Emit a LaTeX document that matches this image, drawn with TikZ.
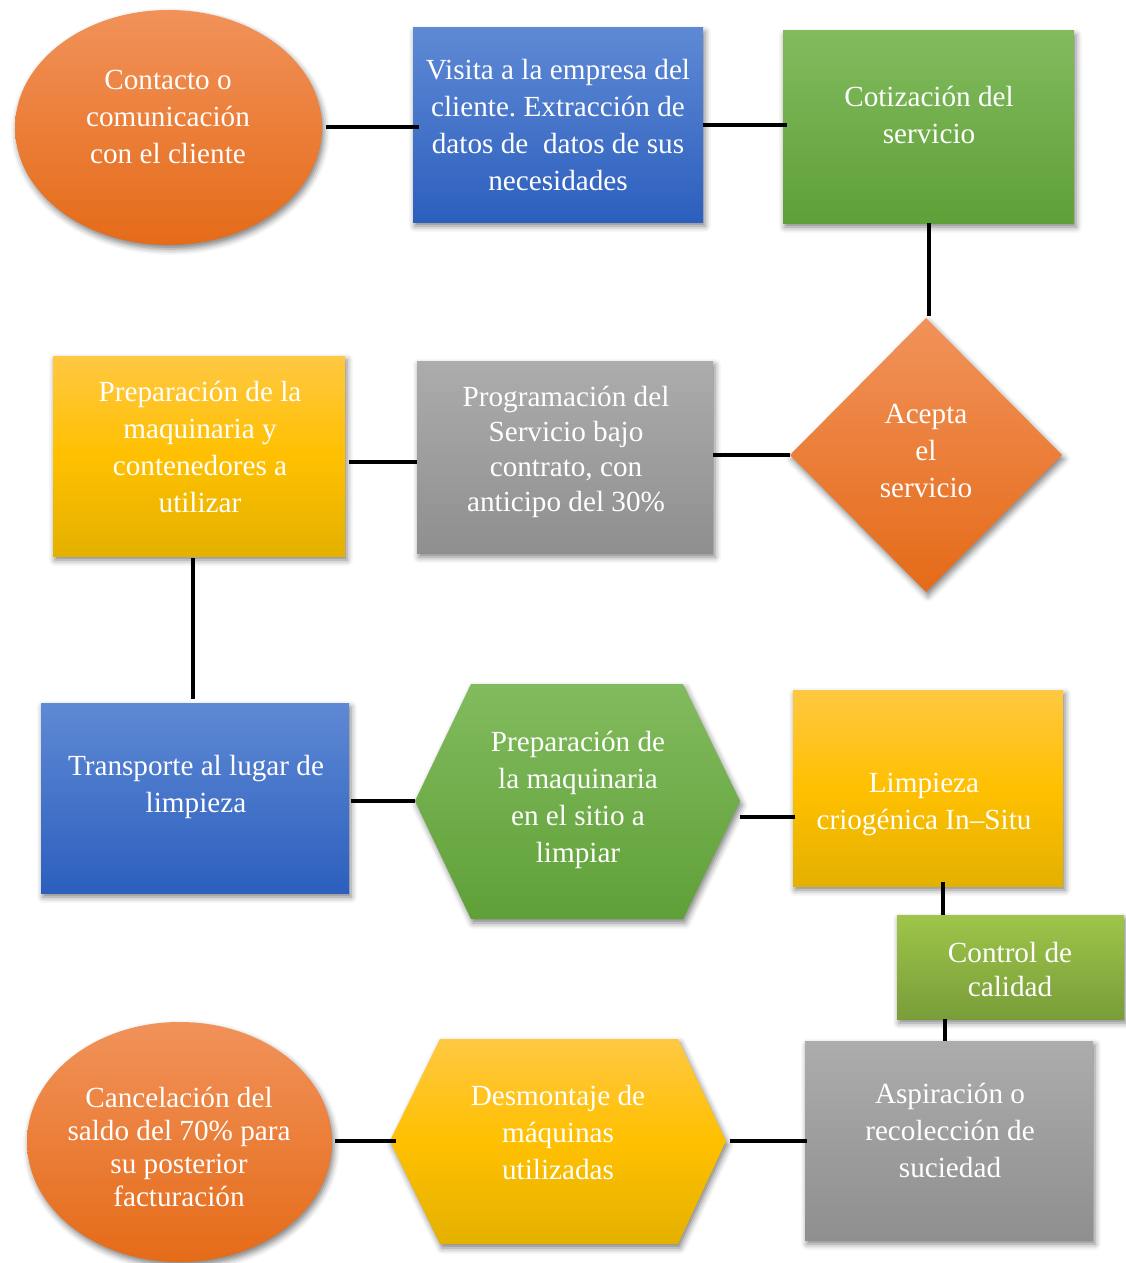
\documentclass[tikz,border=0pt]{standalone}
\usepackage{fontspec}
\setmainfont{Liberation Serif}
\frenchspacing
\usetikzlibrary{shapes.geometric,shadows.blur,calc}

% fill colours (light top, darker bottom)
\definecolor{orT}{RGB}{241,146,90}
\definecolor{orB}{RGB}{229,107,24}
\definecolor{blT}{RGB}{94,137,212}
\definecolor{blB}{RGB}{44,95,190}
\definecolor{grT}{RGB}{130,187,94}
\definecolor{grB}{RGB}{95,160,56}
\definecolor{gyT}{RGB}{172,172,172}
\definecolor{gyB}{RGB}{143,143,143}
\definecolor{ywT}{RGB}{255,200,66}
\definecolor{ywB}{RGB}{228,177,0}
\definecolor{lmT}{RGB}{158,197,74}
\definecolor{lmB}{RGB}{121,157,57}

\tikzset{
  softshadow/.style={blur shadow={shadow xshift=1pt, shadow yshift=-2pt,
      shadow blur radius=3pt, shadow opacity=50}},
  shape base/.style={draw=none, inner sep=0pt, outer sep=0pt, softshadow},
  orangefill/.style={top color=orT, bottom color=orB},
  bluefill/.style={top color=blT, bottom color=blB},
  greenfill/.style={top color=grT, bottom color=grB},
  grayfill/.style={top color=gyT, bottom color=gyB},
  yellowfill/.style={top color=ywT, bottom color=ywB, middle color={rgb,255:red,255;green,192;blue,0}},
  limefill/.style={top color=lmT, bottom color=lmB},
  box/.style={shape base, rectangle},
  oval/.style={shape base, ellipse},
  txt/.style={text=white, align=center, inner sep=0pt,
      font=\fontsize{14.6}{18.5}\selectfont},
  link/.style={line width=2pt, black},
}

\begin{document}
\begin{tikzpicture}[x=0.5pt, y=-0.5pt]
\useasboundingbox (0,0) rectangle (1125,1263);

% ---------- row 1 ----------
\node[oval, orangefill, minimum width=153.5pt, minimum height=117.5pt] (contacto) at (168.5,127.5) {};
\node[txt] (tcontacto) at (168,117) {Contacto o\\comunicación\\con el cliente};

\node[box, bluefill, minimum width=145pt, minimum height=97pt] (visita) at (558,125) {};
\node[txt] (tvisita) at (558,125) {Visita a la empresa del\\cliente. Extracción de\\datos de \ datos de sus\\necesidades};

\node[box, greenfill, minimum width=145.5pt, minimum height=96pt] (cotiz) at (928.5,127) {};
\node[txt] (tcotiz) at (929,115) {Cotización del\\servicio};

% ---------- row 2 ----------
\node[shape base, diamond, orangefill, minimum width=136pt, minimum height=137pt] (acepta) at (926,455) {};
\node[txt] (tacepta) at (926,451) {Acepta\\el\\servicio};

\node[box, grayfill, minimum width=148pt, minimum height=96pt] (program) at (565,457) {};
\node[txt, font=\fontsize{14.6}{17.5}\selectfont] (tprogram) at (566,452) {Programación del\\Servicio bajo\\contrato, con\\anticipo del 30\%};

\node[box, yellowfill, minimum width=146pt, minimum height=100pt] (prepmaq) at (199,456) {};
\node[txt] (tprepmaq) at (200,447) {Preparación de la\\maquinaria y\\contenedores a\\utilizar};

% ---------- row 3 ----------
\node[box, bluefill, minimum width=154pt, minimum height=95pt] (transp) at (195,798) {};
\node[txt] (ttransp) at (196,787) {Transporte al lugar de\\limpieza};

\path[shape base, greenfill]
  (415,801) coordinate (sitio-w) -- (471,684) -- (683,684)
  -- (740,801) coordinate (sitio-e) -- (683,919) -- (471,919) -- cycle;
\node[txt] (tsitio) at (578,800) {Preparación de\\la maquinaria\\en el sitio a\\limpiar};

\node[box, yellowfill, minimum width=135pt, minimum height=98pt] (limpieza) at (928,788) {};
\node[txt] (tlimpieza) at (924,804) {Limpieza\\criogénica In–Situ};

\node[box, limefill, minimum width=113.5pt, minimum height=52pt] (control) at (1010.5,967) {};
\node[txt, font=\fontsize{14.6}{17}\selectfont] (tcontrol) at (1010,969) {Control de\\calidad};

% ---------- row 4 ----------
\node[box, grayfill, minimum width=144pt, minimum height=99.5pt] (aspir) at (949,1140.5) {};
\node[txt] (taspir) at (950,1130) {Aspiración o\\recolección de\\suciedad};

\path[shape base, yellowfill]
  (390,1141) coordinate (desm-w) -- (440,1039) -- (678,1039)
  -- (726,1141) coordinate (desm-e) -- (678,1244) -- (440,1244) -- cycle;
\node[txt] (tdesm) at (558,1132) {Desmontaje de\\máquinas\\utilizadas};

\node[oval, orangefill, minimum width=152.5pt, minimum height=120pt] (cancel) at (179.5,1142) {};
\node[txt, font=\fontsize{14.6}{16.5}\selectfont] (tcancel) at (179,1147) {Cancelación del\\saldo del 70\% para\\su posterior\\facturación};

% ---------- connectors ----------
\draw[link] ([xshift=2pt]contacto.east) -- ([xshift=3pt]contacto.east -| visita.west);
\draw[link] (visita.east) -- ([xshift=2pt]visita.east -| cotiz.west);
\draw[link] (cotiz.south) -- ([yshift=1pt]cotiz.south |- acepta.north);
\draw[link] (acepta.west) -- (acepta.west -| program.east);
\draw[link] ([yshift=-2.5pt]program.west) -- ([yshift=-2.5pt,xshift=2pt]program.west -| prepmaq.east);
\draw[link] ([xshift=-1pt,yshift=-1pt]transp.north |- prepmaq.south) -- ([xshift=-1pt,yshift=2pt]transp.north);
\draw[link] ([xshift=1pt]transp.east |- sitio-w) -- (sitio-w);
\draw[link] ([yshift=-8pt]sitio-e) -- ([yshift=-8pt,xshift=1pt]sitio-e -| limpieza.west);
\draw[link] ([xshift=7.5pt,yshift=2pt]limpieza.south) -- ([xshift=7.5pt]limpieza.south |- control.north);
\draw[link] ([xshift=-2pt]aspir.north |- control.south) -- ([xshift=-2pt]aspir.north);
\draw[link] ([xshift=1pt]aspir.west |- desm-e) -- ([xshift=2pt]desm-e);
\draw[link] ([xshift=3pt]desm-w) -- ([xshift=1.5pt]desm-w -| cancel.east);
\end{tikzpicture}
\end{document}
